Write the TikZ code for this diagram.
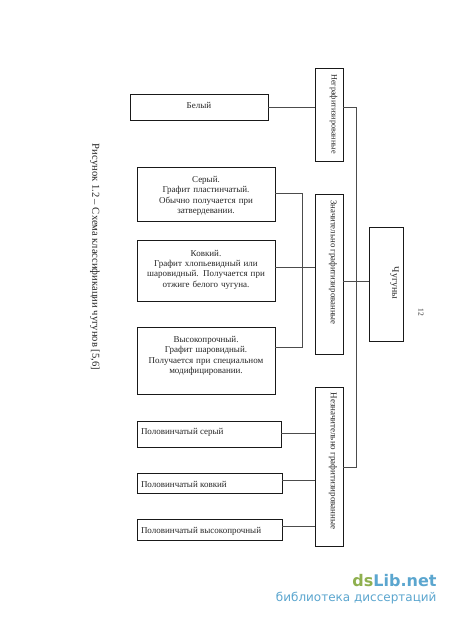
\documentclass[tikz,border=0pt]{standalone}
\usepackage{fontspec}
\setmainfont{Liberation Serif}
\newfontfamily\wmfont{DejaVu Sans}
\definecolor{wmgreen}{HTML}{8FB04F}
\definecolor{wmblue}{HTML}{5BA6CF}
\tikzset{
  every node/.style={inner sep=0pt,outer sep=0pt},
  txt/.style={font=\fontsize{9}{10.4}\selectfont,text=black!85},
  box/.style={draw=black!90,line width=0.95pt,anchor=north west},
  link/.style={draw=black!70,line width=0.75pt},
  textblock/.style={txt,align=center,text width=130pt},
}
\begin{document}
\begin{tikzpicture}[x=1pt,y=-1pt]
\useasboundingbox (0,0) rectangle (450,619);
\fill[white] (0,0) rectangle (450,619);
% left column
\node[box,minimum width=138pt,minimum height=26pt] (white) at (130,94) {};
\node[txt] (whitet) at (199,105) {Белый};
\node[box,minimum width=138pt,minimum height=54pt] (gray) at (137,167) {};
\node[textblock] (grayt) at (206,196) {Серый.\\Графит пластинчатый.\\Обычно получается при\\затвердевании.};
\node[box,minimum width=138pt,minimum height=61pt] (mall) at (137,240) {};
\node[textblock] (mallt) at (206,269.5) {Ковкий.\\Графит хлопьевидный или\\шаровидный. Получается при\\отжиге белого чугуна.};
\node[box,minimum width=138pt,minimum height=67pt] (hs) at (137,327) {};
\node[textblock] (hst) at (206,356) {Высокопрочный.\\Графит шаровидный.\\Получается при специальном\\модифицировании.};
\node[box,minimum width=144pt,minimum height=26pt] (hg) at (137,421) {};
\node[txt,anchor=west] (hgt) at (141,432) {Половинчатый серый};
\node[box,minimum width=145pt,minimum height=20pt] (hm) at (137,473) {};
\node[txt,anchor=west] (hmt) at (141,484) {Половинчатый ковкий};
\node[box,minimum width=145pt,minimum height=21pt] (hh) at (137,519) {};
\node[txt,anchor=west] (hht) at (141,531) {Половинчатый высокопрочный};
% middle column
\node[box,minimum width=28pt,minimum height=93pt] (nong) at (315,68) {};
\node[txt,rotate=-90,font=\fontsize{8.2}{10}\selectfont] (nongt) at (333.5,114) {Неграфитизированные};
\node[box,minimum width=28pt,minimum height=160pt] (sig) at (315,194) {};
\node[txt,rotate=-90,font=\fontsize{8.8}{10}\selectfont] (sigt) at (333,262.5) {Значительно графитизированные};
\node[box,minimum width=28pt,minimum height=159pt] (ins) at (315,387) {};
\node[txt,rotate=-90,font=\fontsize{9}{10}\selectfont] (inst) at (333,461) {Незначительно графитизированные};
% right
\node[box,minimum width=34pt,minimum height=114pt] (cast) at (369,227) {};
\node[txt,rotate=-90,font=\fontsize{9.8}{11}\selectfont] (castt) at (394.5,283) {Чугуны};
% page number and caption
\node[txt,rotate=-90,font=\fontsize{7.5}{9}\selectfont] (page) at (421,312.5) {12};
\node[rotate=-90,font=\fontsize{10.6}{12}\selectfont,text=black!85] (cap) at (95,257) {Рисунок 1.2 – Схема классификации чугунов [5,6]};
% connectors
\coordinate (spinetop) at (356,107);
\coordinate (spinebot) at (356,467);
\coordinate (rail1) at (302,193);
\coordinate (rail2) at (302,347);
\draw[link] (white.east |- spinetop) -- (nong.west |- spinetop);
\draw[link] (nong.east |- spinetop) -- (spinetop) -- (spinebot) -- (ins.east |- spinebot);
\draw[link] (sig.east |- 0,281) -- (cast.west |- 0,281);
\draw[link] (gray.east |- rail1) -- (rail1) -- (rail2) -- (hs.east |- rail2);
\draw[link] (mall.east |- 0,267) -- (sig.west |- 0,267);
\draw[link] (hg.east |- 0,433) -- (ins.west |- 0,433);
\draw[link] (hm.east |- 0,480) -- (ins.west |- 0,480);
\draw[link] (hh.east |- 0,526) -- (ins.west |- 0,526);
% watermark
\node[anchor=east,font=\wmfont\bfseries\fontsize{16}{18}\selectfont] (wm1) at (436.5,581) {\textcolor{wmgreen}{ds}\textcolor{wmblue}{Lib.net}};
\node[anchor=east,font=\wmfont\fontsize{12}{13}\selectfont,text=wmblue] (wm2) at (436.5,598) {библиотека диссертаций};
\end{tikzpicture}
\end{document}
